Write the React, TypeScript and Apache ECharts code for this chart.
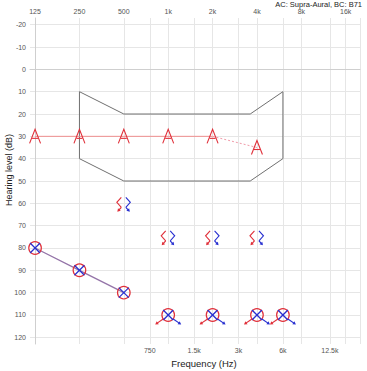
import React, { useEffect, useRef } from 'react';
import * as echarts from 'echarts';

// Axis ticks
const topFreqs = [125, 250, 500, 1000, 2000, 4000, 8000, 16000];
const topLabels = ['125', '250', '500', '1k', '2k', '4k', '8k', '16k'];
const midFreqs = [750, 1500, 3000, 6000, 12500];
const midLabels = ['750', '1.5k', '3k', '6k', '12.5k'];
const dbTicks = [-20, -10, 0, 10, 20, 30, 40, 50, 60, 70, 80, 90, 100, 110, 120];
const freqMin = 115.5;
const freqMax = 20000;
const dbMin = -23;
const dbMax = 123;

// Gray region outline
const bandFreqs = [250, 500, 3600, 6000, 6000, 3600, 500, 250, 250];
const bandDb = [10, 20, 20, 10, 40, 50, 50, 40, 10];

// Aided ("A") thresholds
const aidedFreqs = [125, 250, 500, 1000, 2000, 4000];
const aidedDb = [30, 30, 30, 30, 30, 35];

// Bone conduction, no response
const boneFreqs = [500, 1000, 2000, 4000];
const boneDb = [60, 75, 75, 75];

// Air conduction (both ears)
const airFreqs = [125, 250, 500];
const airDb = [80, 90, 100];

// Air conduction, no response
const airNrFreqs = [1000, 2000, 4000, 6000];
const airNrDb = [110, 110, 110, 110];

const RED = '#e0303a';
const BLUE = '#2830d0';

const xv = (f: number) => Math.log2(f / 125);
const pts = (fs: number[], ds: number[]) => fs.map((f, i) => [xv(f), ds[i]]);

function findLabel(v: number, freqs: number[], labels: string[]) {
  for (let i = 0; i < freqs.length; i++) {
    if (Math.abs(xv(freqs[i]) - v) < 1e-6) return labels[i];
  }
  return '';
}

function arrow(x1: number, y1: number, x2: number, y2: number, color: string) {
  const ang = Math.atan2(y2 - y1, x2 - x1);
  const s = 3.6;
  const a1 = ang + Math.PI * 0.83;
  const a2 = ang - Math.PI * 0.83;
  return [
    { type: 'line', shape: { x1, y1, x2: x2 - Math.cos(ang) * 1.5, y2: y2 - Math.sin(ang) * 1.5 }, style: { stroke: color, lineWidth: 1.2 } },
    {
      type: 'polygon',
      shape: { points: [[x2, y2], [x2 + s * Math.cos(a1), y2 + s * Math.sin(a1)], [x2 + s * Math.cos(a2), y2 + s * Math.sin(a2)]] },
      style: { fill: color },
    },
  ];
}

function circleX(cx: number, cy: number) {
  return [
    { type: 'circle', shape: { cx, cy, r: 6.3 }, style: { fill: 'none', stroke: RED, lineWidth: 1.2 } },
    { type: 'line', shape: { x1: cx - 5, y1: cy - 5, x2: cx + 5, y2: cy + 5 }, style: { stroke: BLUE, lineWidth: 1.3 } },
    { type: 'line', shape: { x1: cx - 5, y1: cy + 5, x2: cx + 5, y2: cy - 5 }, style: { stroke: BLUE, lineWidth: 1.3 } },
  ];
}

export default function App() {
  const ref = useRef<HTMLDivElement>(null);
  useEffect(() => {
    if (!ref.current) return;
    const chart = echarts.init(ref.current, undefined, { renderer: 'svg' });
    const axisFont = { fontSize: 7, color: '#555', fontFamily: 'Liberation Sans, Arial, sans-serif' };
    const option: any = {
      animation: false,
      backgroundColor: '#fff',
      grid: { left: 30, right: 7, top: 18, bottom: 27, containLabel: false },
      xAxis: [
        {
          type: 'value',
          position: 'bottom',
          min: xv(freqMin),
          max: xv(freqMax),
          axisLine: { show: true, lineStyle: { color: '#cfcfcf' } },
          axisTick: { show: false, customValues: midFreqs.map(xv) },
          axisLabel: {
            ...axisFont,
            margin: 3,
            customValues: midFreqs.map(xv),
            formatter: (v: number) => findLabel(v, midFreqs, midLabels),
          },
          splitLine: { show: true, lineStyle: { color: '#e6e6e6', width: 1 } },
        },
        {
          type: 'value',
          position: 'top',
          min: xv(freqMin),
          max: xv(freqMax),
          axisLine: { show: false },
          axisTick: { show: false, customValues: [...topFreqs.map(xv), xv(freqMax)] },
          axisLabel: {
            ...axisFont,
            margin: 3,
            customValues: topFreqs.map(xv),
            formatter: (v: number) => findLabel(v, topFreqs, topLabels),
          },
          splitLine: { show: true, lineStyle: { color: '#e6e6e6', width: 1 } },
        },
      ],
      yAxis: {
        type: 'value',
        inverse: true,
        min: dbMin,
        max: dbMax,
        axisLine: { show: true, lineStyle: { color: '#cfcfcf' } },
        axisTick: { show: false, customValues: dbTicks },
        axisLabel: { ...axisFont, margin: 4, customValues: dbTicks },
        splitLine: { show: true, lineStyle: { color: '#e6e6e6', width: 1 } },
      },
      graphic: [
        {
          type: 'text',
          x: 362,
          y: 0,
          style: { text: 'AC: Supra-Aural, BC: B71', fontSize: 7.5, fill: '#222', align: 'right', verticalAlign: 'top', fontFamily: 'Liberation Sans, Arial, sans-serif' },
        },
        {
          type: 'text',
          x: 204,
          y: 363,
          style: { text: 'Frequency (Hz)', fontSize: 9.5, fill: '#222', align: 'center', verticalAlign: 'middle', fontFamily: 'Liberation Sans, Arial, sans-serif' },
        },
        {
          type: 'text',
          x: 9,
          y: 170,
          rotation: Math.PI / 2,
          style: { text: 'Hearing level (dB)', fontSize: 9, fill: '#222', align: 'center', verticalAlign: 'middle', fontFamily: 'Liberation Sans, Arial, sans-serif' },
        },
      ],
      series: [
        {
          type: 'line',
          data: pts(bandFreqs, bandDb),
          symbol: 'none',
          lineStyle: { color: '#707070', width: 1 },
          z: 2,
        },
        {
          type: 'line',
          data: pts(aidedFreqs.slice(0, 5), aidedDb.slice(0, 5)),
          symbol: 'none',
          lineStyle: { color: '#f09090', width: 1 },
          z: 3,
        },
        {
          type: 'line',
          data: pts(aidedFreqs.slice(4), aidedDb.slice(4)),
          symbol: 'none',
          lineStyle: { color: '#f09aa8', width: 1, type: [2, 2] },
          z: 3,
        },
        {
          type: 'line',
          data: pts(airFreqs, airDb),
          symbol: 'none',
          lineStyle: { color: '#9474a8', width: 1.3 },
          z: 3,
        },
        {
          type: 'custom',
          data: pts(aidedFreqs, aidedDb),
          clip: false,
          z: 5,
          renderItem: (_p: any, api: any) => {
            const [cx, cy] = api.coord([api.value(0), api.value(1)]);
            return {
              type: 'group',
              children: [
                { type: 'polyline', shape: { points: [[cx - 5.5, cy + 7], [cx, cy - 7], [cx + 5.5, cy + 7]] }, style: { fill: 'none', stroke: RED, lineWidth: 1.1 } },
                { type: 'line', shape: { x1: cx - 3, y1: cy + 2, x2: cx + 3, y2: cy + 2 }, style: { stroke: RED, lineWidth: 1.1 } },
              ],
            };
          },
        },
        {
          type: 'custom',
          data: pts(boneFreqs, boneDb),
          clip: false,
          z: 5,
          renderItem: (_p: any, api: any) => {
            const [cx, cy] = api.coord([api.value(0), api.value(1)]);
            return {
              type: 'group',
              children: [
                { type: 'polyline', shape: { points: [[cx - 2.5, cy - 6], [cx - 7, cy - 1], [cx - 2.5, cy + 4]] }, style: { fill: 'none', stroke: RED, lineWidth: 1.1 } },
                ...arrow(cx - 2.5, cy + 4, cx - 6.5, cy + 8.5, RED),
                { type: 'polyline', shape: { points: [[cx + 2, cy - 6], [cx + 6.5, cy - 1], [cx + 2, cy + 4]] }, style: { fill: 'none', stroke: BLUE, lineWidth: 1.1 } },
                ...arrow(cx + 2, cy + 4, cx + 6, cy + 8.5, BLUE),
              ],
            };
          },
        },
        {
          type: 'custom',
          data: pts(airFreqs, airDb),
          clip: false,
          z: 5,
          renderItem: (_p: any, api: any) => {
            const [cx, cy] = api.coord([api.value(0), api.value(1)]);
            return { type: 'group', children: circleX(cx, cy) };
          },
        },
        {
          type: 'custom',
          data: pts(airNrFreqs, airNrDb),
          clip: false,
          z: 5,
          renderItem: (_p: any, api: any) => {
            const [cx, cy] = api.coord([api.value(0), api.value(1)]);
            return {
              type: 'group',
              children: [
                ...circleX(cx, cy),
                ...arrow(cx - 5, cy + 4, cx - 13, cy + 9.5, RED),
                ...arrow(cx + 5, cy + 4, cx + 13, cy + 9.5, BLUE),
              ],
            };
          },
        },
      ],
    };
    chart.setOption(option);
    return () => chart.dispose();
  }, []);
  return <div ref={ref} style={{ position: 'fixed', left: 0, top: 0, width: 367, height: 371 }} />;
}
